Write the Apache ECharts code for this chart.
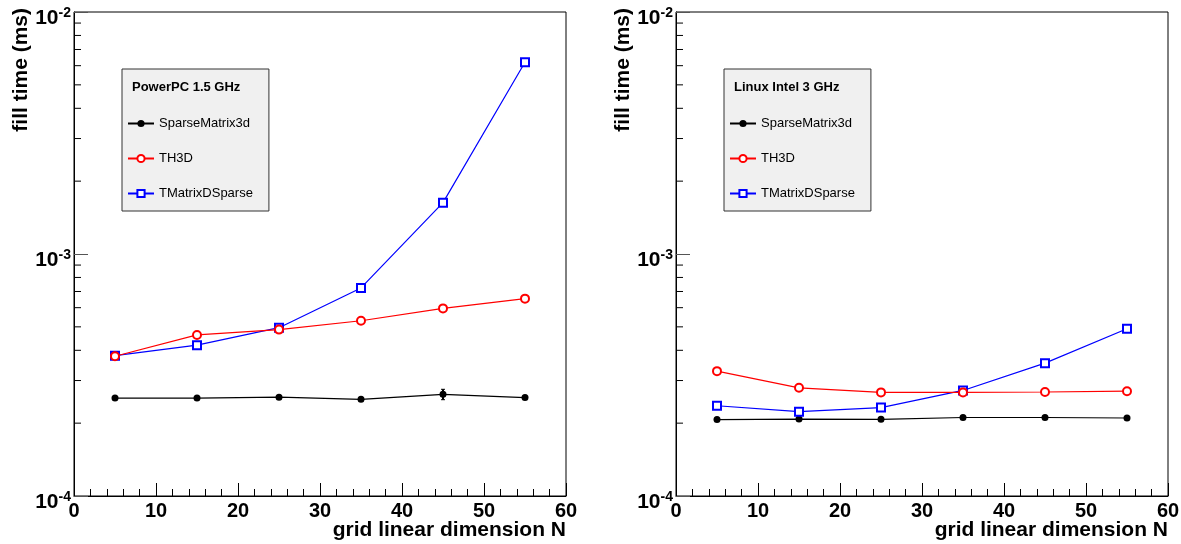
<!DOCTYPE html>
<html>
<head>
<meta charset="utf-8">
<script src="https://cdn.jsdelivr.net/npm/echarts@6/dist/echarts.min.js"></script>
<style>
html, body { margin: 0; padding: 0; background: #fff; }
#main { width: 1181px; height: 544px; }
</style>
</head>
<body>
<div id="main"></div>
<script>
// grid linear dimension N
var gridN = [5, 15, 25, 35, 45, 55];

// PowerPC 1.5 GHz (left)
var ppcSparse = [2.54e-4, 2.54e-4, 2.56e-4, 2.51e-4, 2.63e-4, 2.55e-4];
var ppcSparseErr = [0, 0, 0, 0, 0.13e-4, 0];
var ppcTH3D = [3.78e-4, 4.63e-4, 4.87e-4, 5.30e-4, 5.96e-4, 6.54e-4];
var ppcTMatrix = [3.80e-4, 4.20e-4, 4.96e-4, 7.24e-4, 1.63e-3, 6.20e-3];

// Linux Intel 3 GHz (right)
var intelSparse = [2.07e-4, 2.08e-4, 2.075e-4, 2.11e-4, 2.11e-4, 2.10e-4];
var intelTH3D = [3.28e-4, 2.80e-4, 2.68e-4, 2.68e-4, 2.69e-4, 2.71e-4];
var intelTMatrix = [2.36e-4, 2.23e-4, 2.32e-4, 2.73e-4, 3.54e-4, 4.91e-4];

// axis ticks
var xTicks = [0, 10, 20, 30, 40, 50, 60];
var yMinorTicks = [2e-4, 3e-4, 4e-4, 5e-4, 6e-4, 7e-4, 8e-4, 9e-4,
                   2e-3, 3e-3, 4e-3, 5e-3, 6e-3, 7e-3, 8e-3, 9e-3];

var names = ['SparseMatrix3d', 'TH3D', 'TMatrixDSparse'];
var titles = ['PowerPC 1.5 GHz', 'Linux Intel 3 GHz'];

function pairs(xs, ys) {
    var out = [];
    for (var i = 0; i < xs.length; i++) out.push([xs[i], ys[i]]);
    return out;
}

var myChart = echarts.init(document.getElementById('main'));

var grids = [
    { left: 74, top: 12, width: 492, height: 484 },
    { left: 676, top: 12, width: 492, height: 484 }
];

var option = {
    animation: false,
    backgroundColor: '#fff',
    title: [],
    legend: [],
    grid: [],
    xAxis: [],
    yAxis: [],
    series: []
};

for (var g = 0; g < 2; g++) {
    option.grid.push({
        left: grids[g].left, top: grids[g].top,
        width: grids[g].width, height: grids[g].height,
        containLabel: false,
        outerBoundsMode: 'none',
        show: true, borderColor: '#000', borderWidth: 1
    });
    option.title.push({
        text: titles[g],
        left: grids[g].left + 58,
        top: 81,
        padding: 0,
        z: 10,
        textStyle: { fontSize: 13, fontWeight: 'bold', color: '#000', fontFamily: 'Liberation Sans' }
    });
    option.legend.push({
        data: names,
        orient: 'vertical',
        left: grids[g].left + 48,
        top: 69,
        padding: [48, 16, 11, 5],
        itemWidth: 26,
        itemHeight: 9,
        itemGap: 22,
        selectedMode: false,
        backgroundColor: '#f0f0f0',
        borderColor: '#333',
        borderWidth: 1,
        textStyle: { fontSize: 13, color: '#000', fontFamily: 'Liberation Sans' }
    });
    option.xAxis.push({
        type: 'value',
        gridIndex: g,
        min: 0, max: 60, interval: 10,
        name: 'grid linear dimension N',
        nameLocation: 'end',
        nameGap: 0,
        nameMoveOverlap: false,
        nameTextStyle: {
            fontSize: 21, fontWeight: 'bold', color: '#000', fontFamily: 'Liberation Sans',
            align: 'right', verticalAlign: 'top', padding: [24, 0, 0, 0]
        },
        axisLine: { show: true, lineStyle: { color: '#000', width: 1 } },
        axisTick: { show: true, inside: true, length: 13, lineStyle: { color: '#000' } },
        minorTick: { show: true, splitNumber: 5, length: 7, lineStyle: { color: '#000' } },
        splitLine: { show: false },
        axisLabel: {
            margin: 5, fontSize: 20, fontWeight: 'bold', color: '#000', fontFamily: 'Liberation Sans',
            showMinLabel: true, showMaxLabel: true,
            formatter: function (v) { return xTicks.indexOf(v) >= 0 ? String(v) : ''; }
        }
    });
    option.yAxis.push({
        type: 'log',
        logBase: 10,
        gridIndex: g,
        min: 1e-4, max: 1e-2,
        splitNumber: 2,
        name: 'fill time (ms)',
        nameLocation: 'end',
        nameRotate: 90,
        nameGap: 4,
        nameMoveOverlap: false,
        nameTextStyle: {
            fontSize: 21, fontWeight: 'bold', color: '#000', fontFamily: 'Liberation Sans',
            align: 'right', verticalAlign: 'bottom', padding: [0, 0, 42, 0]
        },
        axisLine: { show: true, lineStyle: { color: '#000', width: 1 } },
        axisTick: { show: true, inside: true, length: 14, lineStyle: { color: '#555' } },
        splitLine: { show: false },
        axisLabel: {
            margin: 3,
            padding: [12, 0, 0, 0],
            formatter: function (v) {
                var e = Math.round(Math.log(v) / Math.LN10);
                return '{b|10}{s|' + e + '}';
            },
            rich: {
                b: { fontSize: 21, fontWeight: 'bold', color: '#000', fontFamily: 'Liberation Sans', lineHeight: 24 },
                s: { fontSize: 14, fontWeight: 'bold', color: '#000', fontFamily: 'Liberation Sans', lineHeight: 14, verticalAlign: 'top' }
            }
        }
    });

    // minor log ticks on the y axis
    option.series.push({
        type: 'custom',
        xAxisIndex: g, yAxisIndex: g,
        silent: true,
        z: 1,
        data: yMinorTicks.map(function (v) { return [0, v]; }),
        renderItem: function (params, api) {
            var p = api.coord([api.value(0), api.value(1)]);
            return {
                type: 'line',
                shape: { x1: p[0], y1: p[1], x2: p[0] + 7, y2: p[1] },
                style: { stroke: '#000', lineWidth: 1 }
            };
        }
    });
}

var panels = [
    { sparse: ppcSparse, th3d: ppcTH3D, tmat: ppcTMatrix, err: ppcSparseErr },
    { sparse: intelSparse, th3d: intelTH3D, tmat: intelTMatrix, err: null }
];

for (var k = 0; k < 2; k++) {
    var p = panels[k];
    option.series.push({
        name: names[0], type: 'line', xAxisIndex: k, yAxisIndex: k, z: 2,
        data: pairs(gridN, p.sparse),
        symbol: 'circle', symbolSize: 7,
        lineStyle: { color: '#000', width: 1.2 },
        itemStyle: { color: '#000' }
    });
    option.series.push({
        name: names[2], type: 'line', xAxisIndex: k, yAxisIndex: k, z: 3,
        data: pairs(gridN, p.tmat),
        symbol: 'emptyRect', symbolSize: 8,
        lineStyle: { color: '#0000ff', width: 1.2 },
        itemStyle: { color: '#0000ff', borderWidth: 1.5 }
    });
    option.series.push({
        name: names[1], type: 'line', xAxisIndex: k, yAxisIndex: k, z: 4,
        data: pairs(gridN, p.th3d),
        symbol: 'emptyCircle', symbolSize: 8,
        lineStyle: { color: '#ff0000', width: 1.2 },
        itemStyle: { color: '#ff0000', borderWidth: 1 }
    });
    if (p.err) {
        var errData = [];
        for (var i = 0; i < gridN.length; i++) {
            if (p.err[i] > 0) errData.push([gridN[i], p.sparse[i], p.err[i]]);
        }
        option.series.push({
            type: 'custom', xAxisIndex: k, yAxisIndex: k, z: 5, silent: true,
            data: errData,
            renderItem: function (params, api) {
                var x = api.value(0), y = api.value(1), e = api.value(2);
                var hi = api.coord([x, y + e]);
                var lo = api.coord([x, y - e]);
                return {
                    type: 'group',
                    children: [
                        { type: 'line', shape: { x1: hi[0], y1: hi[1], x2: lo[0], y2: lo[1] }, style: { stroke: '#000', lineWidth: 2 } },
                        { type: 'line', shape: { x1: hi[0] - 2, y1: hi[1], x2: hi[0] + 2, y2: hi[1] }, style: { stroke: '#000', lineWidth: 1 } },
                        { type: 'line', shape: { x1: lo[0] - 2, y1: lo[1], x2: lo[0] + 2, y2: lo[1] }, style: { stroke: '#000', lineWidth: 1 } }
                    ]
                };
            }
        });
    }
}

myChart.setOption(option);
</script>
</body>
</html>
